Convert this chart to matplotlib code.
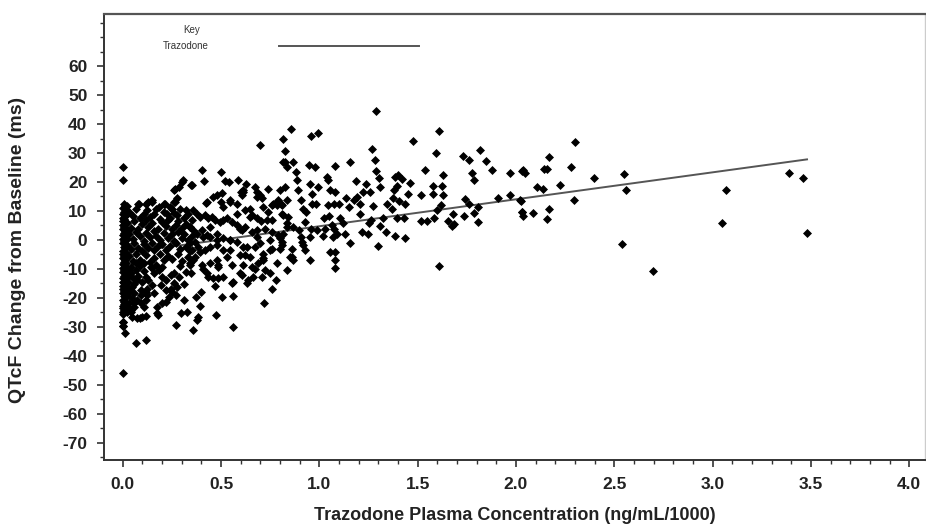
import matplotlib
matplotlib.use("Agg")
import matplotlib.pyplot as plt
from matplotlib.ticker import MultipleLocator, FormatStrFormatter

plt.rcParams['font.family'] = ['Liberation Sans', 'DejaVu Sans']
plt.rcParams['axes.unicode_minus'] = False

# ---- data: (concentration ng/mL/1000, QTcF change ms) ----
# column of samples at ~zero concentration
col0_conc = [0.000, 0.000, 0.005, 0.010, 0.000, 0.015, 0.005, 0.000, 0.012, 0.003, 0.008, 0.000, 0.014, 0.004,
             0.009, 0.000, 0.011, 0.006, 0.000, 0.013, 0.003, 0.008, 0.000, 0.015, 0.005, 0.010, 0.000, 0.012,
             0.004, 0.009, 0.000, 0.014, 0.006, 0.000, 0.011, 0.003, 0.008, 0.000, 0.013, 0.005, 0.000, 0.010,
             0.003, 0.007, 0.000, 0.012, 0.004, 0.009, 0.000, 0.006, 0.011, 0.000, 0.005, 0.009, 0.000, 0.004,
             0.008, 0.000, 0.003, 0.000, 0.000, 0.010, 0.000,
             0.020, 0.022, 0.018, 0.024, 0.020, 0.017, 0.023, 0.019, 0.021, 0.018, 0.024, 0.020, 0.017, 0.022]
col0_qtcf = [25.0, 20.8, 12.4, 11.6, 11.0, 10.3, 9.7, 9.0, 8.4, 7.7, 7.1, 6.4, 5.8, 5.0,
             4.5, 3.8, 3.1, 2.5, 1.7, 1.1, 0.4, -0.3, -1.0, -1.6, -2.3, -2.9, -3.7, -4.3,
             -5.0, -5.6, -6.4, -7.0, -7.6, -8.3, -8.9, -9.7, -10.3, -11.0, -11.6, -12.4, -13.0, -13.7,
             -14.4, -15.0, -15.8, -16.4, -17.1, -17.8, -18.5, -19.2, -19.8, -20.6, -21.3, -22.0, -22.7, -23.5,
             -24.2, -25.0, -25.6, -28.3, -29.8, -32.2, -45.9,
             11.8, 8.9, 6.1, 3.3, 0.2, -2.6, -5.3, -8.0, -10.9, -13.6, -16.1, -18.9, -21.7, -24.1]

# dense band, low concentrations (0.02 - 0.36)
low_conc = [0.03, 0.05, 0.07, 0.09, 0.11, 0.14, 0.17, 0.19, 0.21, 0.24, 0.26, 0.29, 0.31, 0.33, 0.35,
            0.02, 0.04, 0.06, 0.08, 0.10, 0.12, 0.13, 0.15, 0.18, 0.20, 0.22, 0.23, 0.25, 0.27, 0.28, 0.30, 0.32, 0.34,
            0.03, 0.05, 0.07, 0.09, 0.11, 0.12, 0.14, 0.16, 0.17, 0.19, 0.21, 0.23, 0.25, 0.26, 0.28, 0.30, 0.31, 0.33, 0.35,
            0.02, 0.04, 0.06, 0.08, 0.10, 0.11, 0.13, 0.15, 0.16, 0.18, 0.20, 0.22, 0.24, 0.27, 0.29, 0.32, 0.34,
            0.03, 0.05, 0.07, 0.09, 0.12, 0.14, 0.16, 0.19, 0.21, 0.23, 0.25, 0.28, 0.30, 0.33,
            0.02, 0.03, 0.025, 0.04, 0.035, 0.05, 0.02, 0.03, 0.06, 0.045, 0.07, 0.08, 0.09, 0.10, 0.11, 0.12,
            0.02, 0.04, 0.06, 0.13, 0.15, 0.17, 0.20, 0.22, 0.26, 0.29, 0.31, 0.34,
            0.000, 0.000, 0.066, 0.117, 0.049, 0.074, 0.100, 0.117,
            0.032, 0.041, 0.057, 0.074, 0.092, 0.108, 0.092, 0.117, 0.125, 0.159, 0.176, 0.176, 0.201, 0.219,
            0.236, 0.252, 0.270, 0.295, 0.270, 0.329, 0.312, 0.181, 0.088,
            0.041, 0.066, 0.108, 0.142, 0.117, 0.159, 0.185, 0.201, 0.219, 0.244, 0.261, 0.286, 0.320, 0.346,
            0.278, 0.244, 0.193, 0.151, 0.074, 0.049, 0.092, 0.125, 0.057, 0.032,
            0.261, 0.286, 0.303, 0.346, 0.261, 0.252, 0.210, 0.185, 0.151, 0.117, 0.083, 0.125, 0.159, 0.227,
            0.278, 0.320, 0.308, 0.266, 0.275, 0.266, 0.147, 0.130, 0.079, 0.215, 0.240]
low_qtcf = [9.5, 8.2, 10.8, 7.6, 9.0, 8.0, 10.5, 7.2, 9.8, 7.7, 9.3, 10.6, 7.4, 8.8, 6.9,
            5.8, 4.1, 6.4, 3.7, 5.5, 6.9, 4.3, 5.9, 3.9, 6.1, 4.7, 6.8, 3.6, 5.2, 6.6, 4.0, 5.6, 4.4,
            2.1, 0.4, 2.8, 1.2, -0.3, 2.5, 0.9, 3.0, 1.5, -0.2, 2.3, 0.6, 1.9, -0.5, 2.6, 0.8, 2.0, -0.1, 1.3,
            -1.8, -3.2, -1.1, -2.7, -3.9, -1.5, -2.9, -1.0, -3.6, -2.2, -1.4, -3.4, -2.0, -1.2, -3.1, -2.4, -3.8,
            -5.6, -7.3, -4.9, -6.8, -5.2, -7.6, -6.1, -4.8, -7.0, -5.5, -6.6, -5.0, -7.2, -5.8,
            -9.6, -12.1, -14.7, -11.3, -16.8, -13.0, -19.5, -23.6, -15.2, -20.2, -7.9, -12.4, -9.1, -14.6, -10.8, -18.0,
            -24.8, -25.0, -21.8, -13.9, -9.8, -8.6, -9.4, -17.4, -14.9, -9.0, -15.1, -8.5,
            -28.3, -29.8, -35.7, -34.6, -26.5, -27.1, -26.5, -26.3,
            -21.9, -24.2, -23.1, -20.8, -21.9, -23.1, -19.1, -20.8, -19.1, -18.5, -23.1, -25.4, -21.9, -21.4,
            -19.7, -17.9, -19.1, -25.4, -29.4, -24.8, -20.8, -26.0, -27.1,
            -9.3, -10.4, -8.1, -9.3, -12.8, -11.6, -10.4, -12.8, -13.9, -12.2, -11.6, -12.8, -11.0, -11.6,
            -16.2, -16.8, -15.6, -15.6, -13.9, -16.2, -17.3, -16.8, -18.5, -17.9,
            17.1, 18.3, 20.0, 18.9, 13.1, 10.8, 12.5, 11.4, 13.1, 12.5, 12.5, 10.2, 9.1, 9.1,
            8.5, 10.2, 20.6, 17.7, 14.3, 13.1, 13.7, 13.1, 12.5, 12.5, 11.4]

# mid concentrations (0.34 - 0.85)
mid_conc = [0.405, 0.500, 0.414, 0.351, 0.520, 0.541, 0.585, 0.626, 0.600, 0.613, 0.608, 0.673, 0.681, 0.698,
            0.707, 0.738, 0.817, 0.792, 0.804, 0.786, 0.766, 0.758, 0.503, 0.458, 0.424, 0.500, 0.509, 0.546,
            0.580, 0.622, 0.648, 0.659, 0.681, 0.703, 0.741, 0.732, 0.761, 0.792, 0.800, 0.749, 0.758, 0.800,
            0.715, 0.715, 0.690, 0.724, 0.749, 0.707, 0.758, 0.719, 0.778, 0.673, 0.664, 0.639, 0.631, 0.605,
            0.613, 0.563, 0.554, 0.560, 0.503, 0.469, 0.560, 0.473, 0.393, 0.385, 0.376, 0.356, 0.398, 0.371,
            0.436, 0.427, 0.486, 0.461, 0.402, 0.410, 0.444, 0.478, 0.486, 0.529, 0.554, 0.597, 0.622, 0.648,
            0.512, 0.546, 0.478, 0.444, 0.419, 0.393, 0.369, 0.359, 0.343,
            0.359, 0.376, 0.393, 0.419, 0.436, 0.453, 0.469, 0.495, 0.529, 0.554, 0.580, 0.597, 0.622, 0.656,
            0.681, 0.724, 0.343, 0.359, 0.376, 0.402, 0.427, 0.444, 0.478, 0.512, 0.546, 0.580, 0.613,
            0.343, 0.369, 0.351, 0.385, 0.673, 0.698, 0.699,
            0.427, 0.478, 0.546, 0.613, 0.681, 0.715, 0.783, 0.809, 0.758, 0.834, 0.648, 0.580, 0.512, 0.444,
            0.605, 0.681, 0.749, 0.809, 0.631, 0.546, 0.478, 0.410, 0.715, 0.783, 0.656, 0.597, 0.486, 0.512,
            0.834, 0.851]
mid_qtcf = [24.0, 23.4, 20.3, 18.9, 20.2, 20.0, 20.8, 19.4, 16.6, 17.4, 15.4, 18.1, 16.6, 15.4,
            14.3, 17.7, 26.9, 13.7, 12.5, 12.0, 12.5, 12.0, 16.2, 14.8, 12.8, 13.1, 11.4, 13.1,
            12.5, 10.2, 10.8, 8.5, 7.4, 6.4, 9.7, 6.8, 2.8, 1.6, 0.5, -3.6, -3.0, -3.0,
            -4.7, -7.0, -8.1, -10.4, -11.6, -12.7, -16.8, -21.7, -13.7, -9.9, -12.7, -13.9, -15.0, -12.2,
            -8.7, -14.5, -15.0, -19.3, -19.7, -16.0, -30.2, -26.0, -22.9, -26.6, -27.7, -31.1, -17.9, -19.7,
            -12.7, -11.6, -13.3, -13.3, -8.7, -9.9, -8.1, -7.0, -8.7, -5.9, -8.7, -5.3, -5.3, -5.9,
            -3.6, -3.6, -1.8, -2.4, -3.6, -4.1, -5.9, -7.0, -8.1,
            10.2, 9.1, 7.9, 8.5, 7.4, 7.9, 6.8, 6.2, 7.4, 6.2, 5.1, 3.9, 4.5, 2.8,
            3.3, 3.9, 4.5, 3.3, 2.2, 3.3, 1.6, 1.0, 2.2, 0.5, -0.1, -0.7, -2.4,
            -1.2, -0.7, -3.6, -2.4, -2.4, -1.2, 32.7,
            13.1, 15.4, 13.7, 16.6, 14.8, 11.4, 13.1, 9.1, 6.8, 4.5, 7.9, 9.1, 6.8, 4.5,
            3.3, 1.0, -0.1, -1.8, -2.4, -0.1, -0.1, 1.0, -6.4, -8.1, -9.3, -11.6, -9.3, -12.8,
            -10.4, -5.9]

# higher concentrations (0.8 - 2.07)
high_conc = [1.289, 0.855, 0.817, 1.609, 1.478, 1.595, 1.729, 1.760, 1.817, 1.850, 1.877, 1.778, 1.789, 1.968,
             2.030, 1.907, 1.968, 2.024, 2.031, 1.806, 1.789, 1.738, 1.743, 1.761, 1.807, 1.682, 1.685, 1.677,
             1.653, 1.609, 1.626, 1.628, 1.619, 1.597, 1.585, 1.577, 1.577, 1.629, 1.538, 1.549, 1.519, 1.517,
             1.461, 1.438, 1.438, 1.385, 1.429, 1.397, 1.407, 1.376, 1.382, 1.394, 1.385, 1.399, 1.419, 1.453,
             1.371, 1.343, 1.309, 1.304, 1.289, 1.285, 1.268, 1.258, 1.272, 1.263, 1.322, 1.309, 1.338, 1.297,
             1.248, 1.219, 1.251, 1.209, 1.207, 1.193, 1.224, 1.239, 1.188, 1.156, 1.177, 1.149, 1.137, 1.158,
             1.132, 1.122, 1.105, 1.099, 1.081, 1.044, 1.038, 1.080, 1.076, 1.046, 1.053, 1.066, 1.076, 1.092,
             1.071, 1.081, 1.053, 1.078, 1.080, 1.049, 1.024, 1.027, 1.017, 0.987, 0.977, 0.992, 0.982, 0.965,
             0.953, 0.946, 0.961, 0.956, 0.953, 0.929, 0.932, 0.919, 0.905, 0.893, 0.888, 0.882, 0.868, 0.834,
             0.826, 0.826, 0.868, 0.898, 0.905, 0.910, 0.919, 0.927, 0.953, 0.860, 0.868, 0.860, 0.809, 0.817,
             0.834, 0.842, 0.817, 0.809, 0.834, 0.800, 0.827, 0.995, 0.960]
high_qtcf = [44.5, 38.2, 35.0, 37.6, 34.1, 30.1, 29.0, 27.7, 30.9, 27.2, 24.0, 23.1, 20.8, 23.2,
             23.8, 14.6, 15.5, 13.4, 9.7, 11.2, 9.4, 8.3, 14.0, 12.5, 6.2, 9.1, 5.6, 4.7,
             6.5, -9.0, 18.6, 15.4, 12.0, 10.2, 7.7, 15.8, 18.6, 22.5, 24.3, 6.5, 6.5, 15.5,
             19.8, 12.5, 0.5, 1.4, 7.4, 7.7, 13.3, 14.3, 17.1, 18.6, 21.7, 22.3, 20.9, 16.0,
             10.8, 12.5, 18.1, 21.5, 23.8, 27.5, 31.3, 16.6, 11.6, 6.8, 7.7, 4.8, 2.8, -2.2,
             2.0, 2.6, 5.7, 9.1, 12.5, 14.8, 16.6, 19.4, 20.3, 26.9, 13.7, 11.4, 14.5, -1.2,
             2.2, 5.9, 7.4, 12.5, 16.6, 20.6, 21.7, 25.5, 12.5, 12.0, 17.1, 5.1, 3.6, 2.2,
             1.0, -4.3, -4.3, -6.8, -9.8, 8.2, 7.4, 3.9, 1.3, 3.3, 25.2, 18.3, 12.5, 16.0,
             19.4, 25.8, 12.5, 3.9, 1.0, 6.2, 9.7, 10.8, 13.7, 17.1, 20.6, 23.5, 26.9, 25.2,
             26.9, 30.6, 4.5, 3.3, 1.0, -0.7, -1.8, -3.6, -7.0, -3.0, -7.0, -5.9, -0.7, 2.2,
             5.7, 7.9, 8.5, 12.0, 13.7, 17.1, 18.3, 37.0, 36.0]

# highest concentrations (2.0 - 3.5)
top_conc = [2.299, 2.168, 2.279, 2.140, 2.160, 2.035, 2.045, 2.399, 2.548, 2.557, 2.538, 2.697, 3.067, 3.047,
            3.389, 3.459, 3.479, 2.226, 2.297, 2.106, 2.136, 2.021, 2.029, 2.038, 2.088, 2.168, 2.157]
top_qtcf = [33.7, 28.5, 25.2, 24.5, 24.5, 24.0, 23.2, 21.3, 22.7, 17.4, -1.5, -10.6, 17.4, 5.7,
            23.0, 21.3, 2.4, 19.1, 13.8, 18.2, 17.6, 13.8, 9.7, 8.4, 9.2, 10.7, 7.2]

# linear fit drawn over the observed concentration range
fit_conc = [0.0, 3.48]
fit_qtcf = [-4.6, 27.8]

x_ticks = [0.0, 0.5, 1.0, 1.5, 2.0, 2.5, 3.0, 3.5, 4.0]
y_ticks = [-70, -60, -50, -40, -30, -20, -10, 0, 10, 20, 30, 40, 50, 60]

# ---- figure ----
fig = plt.figure(figsize=(9.26, 5.27), dpi=100)
ax = fig.add_axes([104 / 926, 1 - 460 / 527, (925 - 104) / 926, (460 - 14) / 527])

conc = col0_conc + low_conc + mid_conc + high_conc + top_conc
qtcf = col0_qtcf + low_qtcf + mid_qtcf + high_qtcf + top_qtcf
ax.scatter(conc, qtcf, marker='D', s=21, color='black', linewidths=0, zorder=3)
ax.plot(fit_conc, fit_qtcf, color='#555555', lw=1.4, zorder=2)

ax.set_xlim(-0.095, 4.08)
ax.set_ylim(-76, 78)
ax.set_xticks(x_ticks)
ax.set_yticks(y_ticks)
ax.xaxis.set_major_formatter(FormatStrFormatter('%.1f'))
ax.xaxis.set_minor_locator(MultipleLocator(0.1))
ax.yaxis.set_minor_locator(MultipleLocator(5))
ax.tick_params(which='major', length=5, width=1.2, color='#333333', labelsize=12.5, pad=7)
ax.tick_params(which='minor', length=3, width=1.0, color='#333333')
for lab in ax.get_xticklabels() + ax.get_yticklabels():
    lab.set_fontweight('bold')
    lab.set_color('#222222')

for side in ['left', 'bottom']:
    ax.spines[side].set_color('#333333')
    ax.spines[side].set_linewidth(1.4)
ax.spines['top'].set_color('#555555')
ax.spines['top'].set_linewidth(1.6)
ax.spines['right'].set_color('#cccccc')
ax.spines['right'].set_linewidth(1.0)

ax.set_xlabel('Trazodone Plasma Concentration (ng/mL/1000)', fontsize=13, fontweight='bold',
              color='#222222', labelpad=11)
ax.set_ylabel('QTcF Change from Baseline (ms)', fontsize=14, fontweight='bold',
              color='#222222', va='center')
ax.yaxis.set_label_coords((18 - 104) / 821, (460 - 250) / 446)

# key (legend)
fig.text(192 / 926, 1 - 30 / 527, 'Key', fontsize=7, ha='center', va='center', color='#333333')
fig.text(186 / 926, 1 - 46 / 527, 'Trazodone', fontsize=7, ha='center', va='center', color='#333333')
ax.plot([(279 - 104) / 821, (419 - 104) / 821], [1 - 32 / 446, 1 - 32 / 446], transform=ax.transAxes,
        color='#555555', lw=1.4, clip_on=False)

fig.savefig('out.png', dpi=100)
